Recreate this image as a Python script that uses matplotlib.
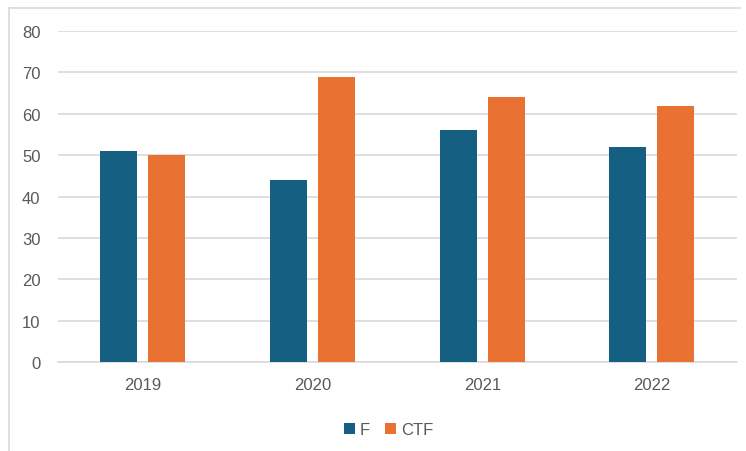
import matplotlib
matplotlib.use("Agg")
import matplotlib.pyplot as plt
from matplotlib.lines import Line2D
import numpy as np

years = ["2019", "2020", "2021", "2022"]
f_vals = [51, 44, 56, 52]
ctf_vals = [50, 69, 64, 62]
series_names = ["F", "CTF"]
colors = ["#156082", "#E97132"]

plt.rcParams['font.family'] = ['Liberation Sans', 'DejaVu Sans']

fig = plt.figure(figsize=(7.46, 4.52), dpi=100)
ax = fig.add_axes([0.0777, 0.197, 0.910, 0.732])

x = np.arange(len(years))
w = 0.218
gap = 0.065
ax.bar(x - (w + gap) / 2, f_vals, width=w, color=colors[0], label=series_names[0], zorder=3)
ax.bar(x + (w + gap) / 2, ctf_vals, width=w, color=colors[1], label=series_names[1], zorder=3)

ax.set_xlim(-0.5, len(years) - 0.5)
ax.set_ylim(0, 80)
ax.set_yticks(range(0, 81, 10))
ax.set_xticks(x)
ax.set_xticklabels(years)
ax.grid(axis='y', color='#D9D9D9', linewidth=1.2, zorder=0)
for s in ['top', 'right', 'left']:
    ax.spines[s].set_visible(False)
ax.spines['bottom'].set_color('#D9D9D9')
ax.spines['bottom'].set_linewidth(1.2)
ax.tick_params(axis='both', length=0, labelsize=12, colors='#595959')
ax.tick_params(axis='y', pad=12.5)
ax.tick_params(axis='x', pad=11)

leg = fig.legend(loc='center', bbox_to_anchor=(0.521, 0.047), ncol=2, frameon=False,
                 fontsize=12, handlelength=0.65, handleheight=0.65, handletextpad=0.3,
                 columnspacing=0.9)
for t in leg.get_texts():
    t.set_color('#595959')

# outer chart border (left and top visible)
fig.add_artist(Line2D([8.5 / 746, 8.5 / 746], [0, 1 - 8.5 / 452], transform=fig.transFigure,
                      color='#D9D9D9', linewidth=1.2))
fig.add_artist(Line2D([8.5 / 746, 740 / 746], [1 - 8.5 / 452, 1 - 8.5 / 452], transform=fig.transFigure,
                      color='#D9D9D9', linewidth=1.2))

fig.savefig("out.png", dpi=100)
